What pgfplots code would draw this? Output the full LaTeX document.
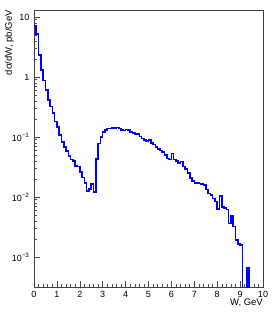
\documentclass[border=0pt]{standalone}
\usepackage{pgfplots}
\pgfplotsset{compat=1.18}
\usepackage{fontspec}
\setmainfont{Liberation Sans}
\definecolor{histblue}{RGB}{0,0,255}
\begin{document}
\begin{tikzpicture}
\begin{axis}[
  at={(0,0)}, anchor=south west,
  scale only axis, width=229bp, height=277bp,
  xmin=0, xmax=10,
  ymode=log, ymin=3.162e-4, ymax=13.08,
  axis line style={line width=0.6bp, black!75},
  tick style={line width=0.5bp, black!70},
  tick pos=left, tick align=inside,
  major tick length=6.5bp, minor tick length=3.3bp,
  xtick={0,1,2,3,4,5,6,7,8,9,10},
  xticklabels={0,1,2,3,4,5,6,7,8,9,10},
  minor x tick num=4,
  ytick={0.001,0.01,0.1,1,10},
  yticklabels={10\textsuperscript{−3},10\textsuperscript{−2},10\textsuperscript{−1},1,10},
  tick label style={font=\fontsize{9bp}{10bp}\selectfont},
  xticklabel style={yshift=-1bp},
  yticklabel style={xshift=-1bp},
  clip mode=individual,
]
\addplot[const plot, draw=histblue, line width=1.6bp, line join=miter] coordinates {
(0.0,7.0) (0.1,5.2) (0.2,2.3) (0.3,1.3) (0.4,0.87) (0.5,0.61) (0.6,0.41) (0.7,0.32) (0.8,0.25) (0.9,0.18)
(1.0,0.148) (1.1,0.108) (1.2,0.082) (1.3,0.068) (1.4,0.059) (1.5,0.048) (1.6,0.042) (1.7,0.040) (1.8,0.033) (1.9,0.032)
(2.0,0.026) (2.1,0.021) (2.2,0.017) (2.3,0.0125) (2.4,0.0135) (2.5,0.0165) (2.6,0.012) (2.7,0.043) (2.8,0.078) (2.9,0.099)
(3.0,0.120) (3.1,0.132) (3.2,0.138) (3.3,0.138) (3.4,0.143) (3.5,0.141) (3.6,0.144) (3.7,0.138) (3.8,0.130) (3.9,0.129)
(4.0,0.134) (4.1,0.130) (4.2,0.120) (4.3,0.116) (4.4,0.110) (4.5,0.113) (4.6,0.102) (4.7,0.095) (4.8,0.090) (4.9,0.085)
(5.0,0.089) (5.1,0.079) (5.2,0.075) (5.3,0.068) (5.4,0.063) (5.5,0.060) (5.6,0.056) (5.7,0.050) (5.8,0.044) (5.9,0.042)
(6.0,0.053) (6.1,0.042) (6.2,0.040) (6.3,0.037) (6.4,0.039) (6.5,0.032) (6.6,0.029) (6.7,0.025) (6.8,0.0205) (6.9,0.0186)
(7.0,0.0172) (7.1,0.0170) (7.2,0.0168) (7.3,0.0165) (7.4,0.0160) (7.5,0.0134) (7.6,0.0115) (7.7,0.0108) (7.8,0.0095) (7.9,0.0084)
(8.0,0.0063) (8.1,0.0104) (8.2,0.0068) (8.3,0.0066) (8.4,0.0062) (8.5,0.0036) (8.6,0.0048) (8.7,0.0032) (8.8,0.0019) (8.9,0.00166)
(9.0,0.00160) (9.1,0.00001) (9.2,0.00001) (9.3,0.00065) (9.4,0.00001) (9.5,0.00001) (9.6,0.00001) (9.7,0.00001) (9.8,0.00001) (9.9,0.00001)
(10.0,0.00001)
};
\node[rotate=90, anchor=south east, inner sep=0pt, font=\fontsize{9.5bp}{10bp}\selectfont] at ([xshift=-20bp]rel axis cs:0,1) {dσ/dW, pb/GeV};
\node[anchor=north east, inner sep=0pt, font=\fontsize{9.5bp}{10bp}\selectfont] at ([yshift=-12bp]rel axis cs:1,0) {W, GeV};
\end{axis}
\pgfresetboundingbox
\path[use as bounding box] (-34bp,-27bp) rectangle (241bp,287bp);
\end{tikzpicture}
\end{document}
